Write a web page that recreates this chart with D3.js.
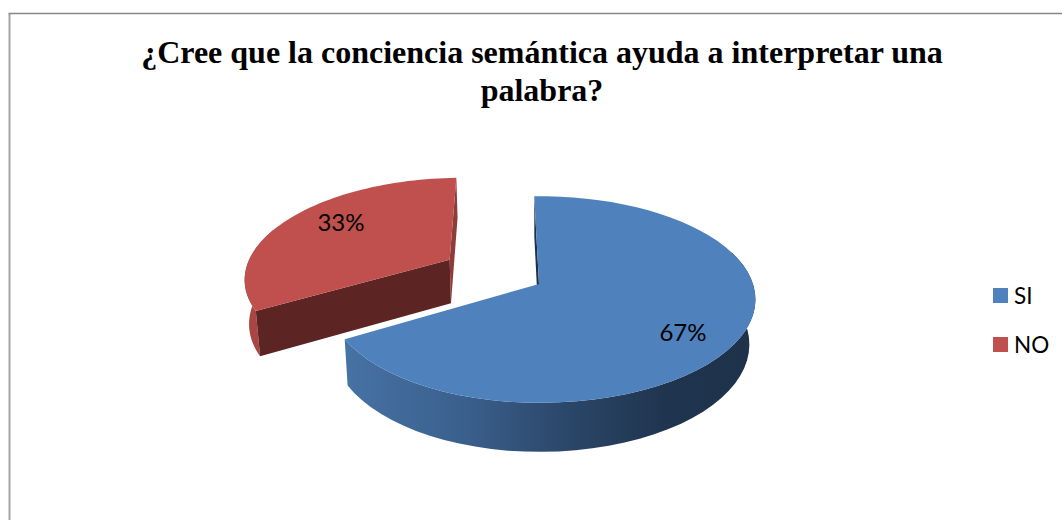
<!DOCTYPE html>
<html><head><meta charset="utf-8">
<script src="https://cdn.jsdelivr.net/npm/d3@7"></script>
<style>html,body{margin:0;padding:0;background:#fff;overflow:hidden}svg{display:block}</style>
</head><body><svg id="c" width="1062" height="520"></svg>
<script>
const categories = ["SI","NO"];
const values = [67,33];
const labels = ["67%","33%"];
const colorsTop = ["#4F81BD","#C0504D"];
const titleLines = ["¿Cree que la conciencia semántica ayuda a interpretar una","palabra?"];

const svg = d3.select("#c");
const defs = svg.append("defs");
const grad = defs.append("linearGradient").attr("id","blueRim").attr("gradientUnits","userSpaceOnUse")
  .attr("x1",346).attr("x2",750).attr("y1",0).attr("y2",0);
[[0,"#4672A4"],[.3,"#3A5F8C"],[.55,"#2B4668"],[.8,"#1F344E"],[1,"#1E324B"]].forEach(s=>grad.append("stop").attr("offset",s[0]).attr("stop-color",s[1]));

// frame
svg.append("path").attr("d","M9.5,520V13.5").attr("fill","none").attr("stroke","#a6a6a6").attr("stroke-width",2);
svg.append("path").attr("d","M8.5,13.5H1062").attr("fill","none").attr("stroke","#868686").attr("stroke-width",1.3);

// title
svg.append("g").selectAll("text").data(titleLines).join("text")
  .attr("x",542).attr("y",(d,i)=>63+i*38).attr("text-anchor","middle")
  .attr("font-family","'Liberation Serif'").attr("font-weight","bold").attr("font-size",32).attr("fill","#000")
  .text(d=>d);

// perspective projection of the pie plane
const cx=539, cy=284, Ry=101, p=0.15, rot=-1.5*Math.PI/180, explode=[0,0.51];
const sx=d3.scaleLinear().domain([-1,0,1]).range([-208,0,214]);
const sy=d3.scaleLinear().domain([0,1]).range([0,Ry]);
function proj(u,v,low){
  const s=1/(1-p*v);
  let x=cx+sx(u)*s, y=cy+sy(v)*s;
  if(low){ x=cx+(x-cx)*(x<cx?0.985:0.972); y+=40+27*(s-0.842); }
  return [x,y];
}
const pie=d3.pie().sort(null).startAngle(rot).endAngle(rot+2*Math.PI)(values);
const line=d3.line();
const fmt=pts=>line(pts)+"Z";

const slices=pie.map((d,i)=>{
  const mid=(d.startAngle+d.endAngle)/2, e=explode[i];
  const ou=e*Math.sin(mid), ov=-e*Math.cos(mid);
  const pt=(a,low)=>proj(ou+Math.sin(a),ov-Math.cos(a),low);
  const angles=d3.range(0,61).map(k=>d.startAngle+(d.endAngle-d.startAngle)*k/60);
  return {d,i,ou,ov,pt,angles,mid};
});

const g=svg.append("g");
function drawWall(s,a,fill){
  g.append("path").attr("d",fmt([s.pt(a,false),s.pt(a,true),proj(s.ou,s.ov,true),proj(s.ou,s.ov,false)])).attr("fill",fill);
}
function drawRim(s,fill){
  const vis=s.angles.filter(a=>Math.cos(a)<0.35);
  const up=vis.map(a=>s.pt(a,false)), lo=vis.map(a=>s.pt(a,true)).reverse();
  g.append("path").attr("d",fmt(up.concat(lo))).attr("fill",fill);
}
function drawTop(s){
  g.append("path").attr("d",fmt(s.angles.map(a=>s.pt(a,false)).concat([proj(s.ou,s.ov,false)]))).attr("fill",colorsTop[s.i]);
}
// NO slice
const red=slices[1];
drawWall(red,red.d.endAngle,"#8E3B39");
drawRim(red,"#A94643");
drawWall(red,red.d.startAngle,"#5C2422");
drawTop(red);
// SI slice
const blue=slices[0];
drawWall(blue,blue.d.startAngle,"#1D3045");
drawRim(blue,"url(#blueRim)");
drawTop(blue);

// data labels
const labelPos=[[683,341],[341,231]];
svg.append("g").selectAll("text").data(labels).join("text")
  .attr("x",(d,i)=>labelPos[i][0]).attr("y",(d,i)=>labelPos[i][1]).attr("text-anchor","middle")
  .attr("font-family","Lato").attr("font-size",24).attr("fill","#000").text(d=>d);

// legend
const legY=d3.scalePoint().domain(categories).range([295.5,344.5]);
const leg=svg.append("g").selectAll("g").data(categories).join("g");
leg.append("rect").attr("x",993).attr("y",d=>legY(d)-7.5).attr("width",15).attr("height",15).attr("fill",(d,i)=>colorsTop[i]);
leg.append("text").attr("x",1014).attr("y",d=>legY(d)+8).attr("font-family","Lato").attr("font-size",22.5).attr("fill","#000").text(d=>d);
</script></body></html>
